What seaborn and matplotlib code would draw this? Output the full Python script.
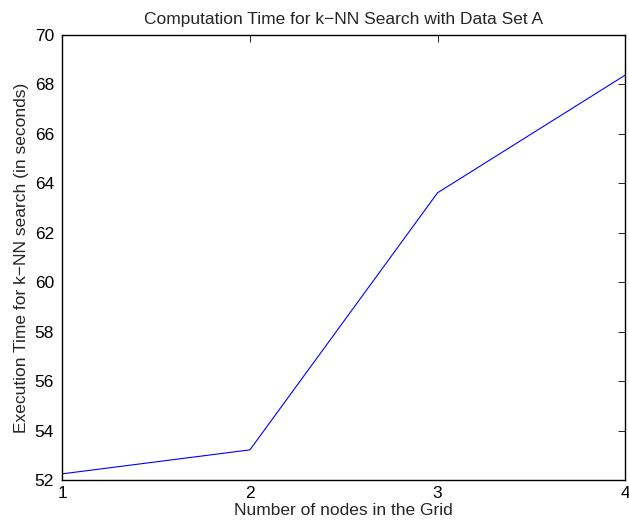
import numpy as np
import pandas as pd
import seaborn as sns
import matplotlib
matplotlib.use("Agg")
import matplotlib.pyplot as plt

# data
nodes = [1, 2, 3, 4]
exec_time = [52.25, 53.22, 63.62, 68.38]
x_ticks = [1, 2, 3, 4]
y_ticks = [52, 54, 56, 58, 60, 62, 64, 66, 68, 70]

df = pd.DataFrame({"nodes": nodes, "time": exec_time})

sns.set_style("white")
plt.rcParams['font.family'] = ['Liberation Sans', 'DejaVu Sans']

fig = plt.figure(figsize=(6.29, 5.31), dpi=100)
ax = fig.add_axes([0.099, 0.096, 0.895, 0.838])

sns.lineplot(data=df, x="nodes", y="time", color="blue", linewidth=0.8, ax=ax)

ax.set_xlim(1, 4)
ax.set_ylim(52, 70)
ax.set_xticks(x_ticks)
ax.set_yticks(y_ticks)
ax.tick_params(direction="in", top=True, right=True, length=5, width=0.6,
               labelsize=12.5, colors="black")
ax.tick_params(axis="y", pad=6)
ax.tick_params(axis="x", pad=4)
for s in ax.spines.values():
    s.set_visible(True)
    s.set_color("black")
    s.set_linewidth(1.0)

ax.set_xlabel("Number of nodes in the Grid", fontsize=12.5, labelpad=2)
ax.set_ylabel("Execution Time for k\u2212NN search (in seconds)", fontsize=12.5, labelpad=4)
ax.set_title("Computation Time for k\u2212NN Search with Data Set A", fontsize=12.5, pad=8)

fig.savefig("out.png", dpi=100)
